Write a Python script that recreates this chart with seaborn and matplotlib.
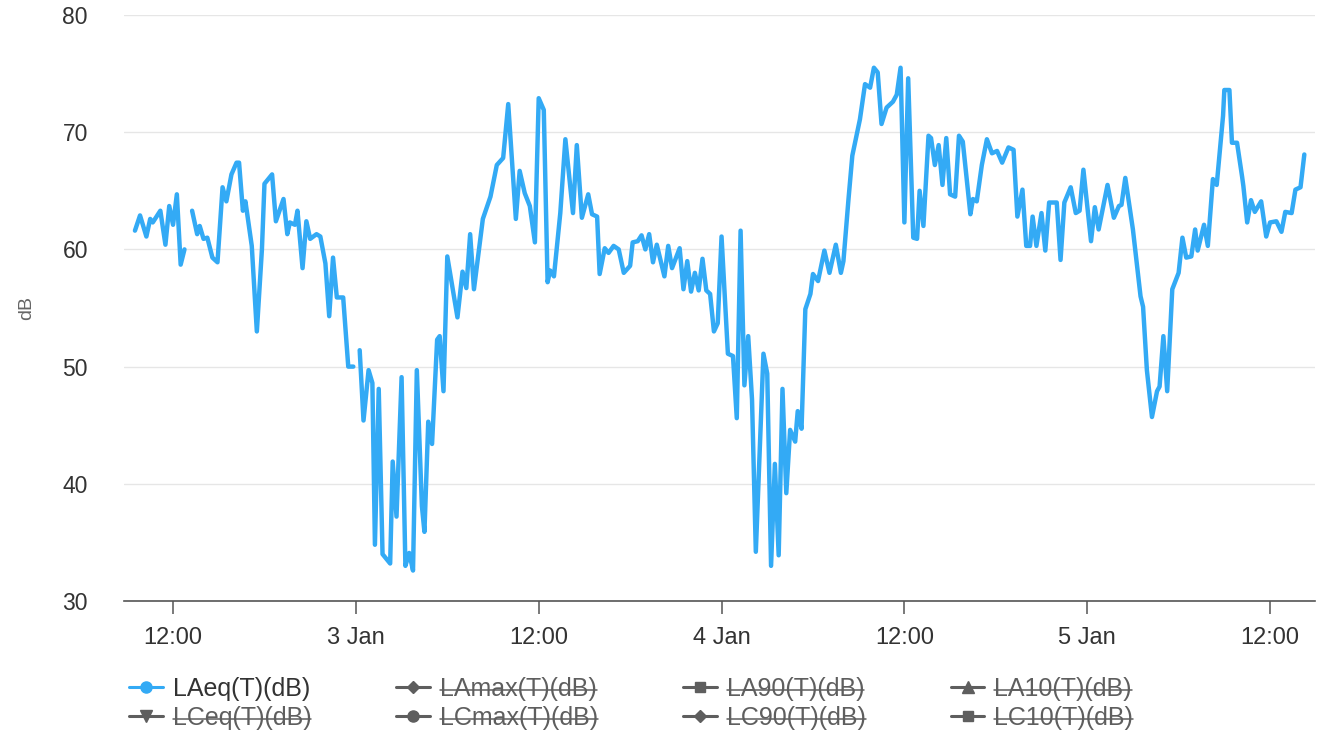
import numpy as np
import pandas as pd
import matplotlib
matplotlib.use("Agg")
import matplotlib.pyplot as plt
from matplotlib.lines import Line2D
import seaborn as sns

# LAeq readings, minutes after the first sample (None = no data, line breaks)
start = "2024-01-02 09:30"
minutes = [0, 20, 45, 60, 70, 100, 120, 135, 150, 165, 180, 195, 210,
           225, 245, 255, 270, 285, 305, 325, 345, 360, 380, 400, 410, 425, 435, 460, 480,
           500, 510, 540, 555, 585, 600, 610, 630, 640, 660, 675, 690, 715, 730, 750, 765,
           780, 795, 820, 840, 860, 870,
           885, 900, 920, 935, 945, 960, 975, 1005, 1015, 1030, 1050, 1065, 1080, 1095,
           1110, 1130, 1140, 1155, 1170, 1190, 1200, 1215, 1230, 1270, 1290, 1305, 1320,
           1335, 1370, 1400, 1425, 1450, 1470, 1500, 1515, 1535, 1555, 1575, 1590, 1610,
           1625, 1635, 1650, 1675, 1695, 1725, 1740, 1760, 1785, 1800, 1820, 1830, 1850,
           1865, 1885, 1905, 1925, 1950, 1960, 1980, 1995, 2010, 2025, 2040, 2055, 2085,
           2100, 2115, 2145, 2160, 2175, 2190, 2205, 2220, 2235, 2250, 2265, 2280, 2295,
           2310, 2335, 2355, 2370, 2385, 2400, 2415, 2430, 2445, 2475, 2490, 2505, 2520,
           2535, 2550, 2565, 2580, 2600, 2610, 2625, 2640, 2660, 2670, 2690, 2715, 2735,
           2760, 2780, 2790, 2810, 2825, 2855, 2875, 2895, 2910, 2925, 2940, 2960, 2985,
           3000, 3015, 3030, 3045, 3065, 3080, 3090, 3105, 3125, 3135, 3150, 3165, 3180,
           3195, 3210, 3230, 3245, 3260, 3290, 3300, 3315, 3335, 3355, 3375, 3395, 3415,
           3440, 3460, 3475, 3495, 3510, 3525, 3535, 3550, 3570, 3585, 3600, 3630, 3645,
           3660, 3685, 3705, 3720, 3735, 3765, 3780, 3795, 3830, 3855, 3875, 3885, 3900,
           3930, 3960, 3970, 3985, 4005, 4025, 4035, 4050, 4065, 4085, 4110, 4125, 4140,
           4160, 4175, 4185, 4210, 4225, 4245, 4260, 4285, 4290, 4310, 4320, 4340, 4360,
           4365, 4380, 4395, 4410, 4435, 4455, 4470, 4495, 4515, 4530, 4555, 4570, 4590, 4605]
laeq = [61.6, 62.9, 61.1, 62.6, 62.3, 63.3, 60.4, 63.7, 62.1, 64.7, 58.7, 60.0, None,
        63.3, 61.3, 62.0, 60.9, 61.0, 59.3, 58.9, 65.3, 64.1, 66.4, 67.4, 67.4, 63.3, 64.1, 60.3, 53.0,
        60.0, 65.6, 66.4, 62.4, 64.3, 61.3, 62.3, 62.1, 63.3, 58.4, 62.4, 60.9, 61.3, 61.1, 58.8, 54.3,
        59.3, 55.9, 55.9, 50.0, 50.0, None,
        51.4, 45.4, 49.7, 48.6, 34.8, 48.1, 34.0, 33.2, 41.9, 37.2, 49.1, 33.0, 34.1, 32.6,
        49.7, 38.1, 35.9, 45.3, 43.4, 52.3, 52.6, 47.9, 59.4, 54.2, 58.1, 56.7, 61.3,
        56.6, 62.6, 64.5, 67.2, 67.8, 72.4, 62.6, 66.7, 64.8, 63.7, 60.6, 72.9, 71.9,
        57.2, 58.2, 57.7, 63.1, 69.4, 63.1, 68.9, 62.7, 64.7, 63.0, 62.8, 57.9, 60.1,
        59.7, 60.3, 60.0, 58.0, 58.6, 60.6, 60.7, 61.2, 60.0, 61.3, 58.9, 60.4, 57.7,
        60.3, 58.4, 60.1, 56.6, 59.0, 56.4, 58.0, 56.5, 59.2, 56.5, 56.2, 53.0, 53.7,
        61.1, 51.1, 50.9, 45.6, 61.6, 48.4, 52.6, 47.2, 34.2, 51.1, 49.4, 33.0, 41.7,
        33.9, 48.1, 39.2, 44.6, 43.6, 46.2, 44.7, 54.9, 56.2, 57.9, 57.3, 59.9, 58.0,
        60.4, 58.0, 59.0, 64.3, 68.0, 71.1, 74.1, 73.8, 75.5, 75.1, 70.7, 72.1, 72.6,
        73.2, 75.5, 62.3, 74.6, 61.0, 60.9, 65.0, 62.0, 69.7, 69.5, 67.2, 68.9, 65.5,
        69.5, 64.7, 64.5, 69.7, 69.2, 63.0, 64.3, 64.1, 67.2, 69.4, 68.2, 68.4, 67.4,
        68.7, 68.5, 62.8, 65.1, 60.3, 60.3, 62.8, 60.3, 63.1, 59.9, 64.0, 64.0, 59.1,
        64.0, 65.3, 63.1, 63.3, 66.8, 60.7, 63.6, 61.7, 65.5, 62.7, 63.7, 63.8, 66.1,
        61.7, 56.0, 55.1, 49.7, 45.7, 47.9, 48.3, 52.6, 47.9, 56.6, 58.0, 61.0, 59.3,
        59.4, 61.7, 59.9, 62.1, 60.3, 66.0, 65.5, 71.4, 73.6, 73.6, 69.1, 69.1, 66.2,
        65.4, 62.3, 64.2, 63.2, 64.1, 61.1, 62.3, 62.4, 61.5, 63.2, 63.1, 65.1, 65.3, 68.1]

tick_times = ["2024-01-02 12:00", "2024-01-03 00:00", "2024-01-03 12:00", "2024-01-04 00:00",
              "2024-01-04 12:00", "2024-01-05 00:00", "2024-01-05 12:00"]
tick_labels = ["12:00", "3 Jan", "12:00", "4 Jan", "12:00", "5 Jan", "12:00"]
y_ticks = [30, 40, 50, 60, 70, 80]

# legend order is column by column (4 columns, 2 rows)
legend_names = ["LAeq(T)(dB)", "LCeq(T)(dB)", "LAmax(T)(dB)", "LCmax(T)(dB)",
                "LA90(T)(dB)", "LC90(T)(dB)", "LA10(T)(dB)", "LC10(T)(dB)"]
legend_markers = ["o", "v", "D", "o", "s", "D", "^", "s"]
marker_sizes = [8, 8, 6, 8, 7, 6, 8, 7]

blue = "#33aaf5"
grey = "#5e5e5e"

sns.set_theme(style="white")
plt.rcParams["font.family"] = ["Liberation Sans", "DejaVu Sans"]

df = pd.DataFrame({
    "time": pd.Timestamp(start) + pd.to_timedelta(minutes, unit="min"),
    "LAeq": np.array(laeq, dtype=float),
})
df["seg"] = df["LAeq"].isna().cumsum()   # 빈 구간에서 선을 끊기 위한 구분
df = df.dropna()

fig = plt.figure(figsize=(13.28, 7.35), dpi=100)
ax = fig.add_axes([0.0934, 0.1823, 0.8968, 0.7973])

sns.lineplot(data=df, x="time", y="LAeq", units="seg", estimator=None,
             color=blue, linewidth=3.2, legend=False, ax=ax,
             solid_joinstyle="round", solid_capstyle="round")

ax.set_ylim(30, 80)
ax.set_yticks(y_ticks)
ax.set_xlim(pd.Timestamp("2024-01-02 08:47"), pd.Timestamp("2024-01-05 14:57"))
ax.set_xticks(pd.to_datetime(tick_times))
ax.set_xticklabels(tick_labels)

ax.grid(axis="y", color="#e6e6e6", linewidth=1)
ax.grid(axis="x", visible=False)
for side in ["top", "right", "left"]:
    ax.spines[side].set_visible(False)
ax.spines["bottom"].set_color("#555555")
ax.spines["bottom"].set_linewidth(1.2)
ax.tick_params(axis="x", bottom=True, length=9.5, width=1.1, color="#555555",
               pad=9.5, labelsize=17, labelcolor="#333333")
ax.tick_params(axis="y", left=False, length=0, pad=26, labelsize=16.5, labelcolor="#333333")
ax.set_xlabel("")
ax.set_ylabel("dB", fontsize=14, color="#666666")
ax.yaxis.set_label_coords(-0.075, 0.5)

handles = []
for i, (mk, ms) in enumerate(zip(legend_markers, marker_sizes)):
    c = blue if i == 0 else grey
    handles.append(Line2D([], [], color=c, lw=2.2, marker=mk, markersize=ms))

leg = fig.legend(handles, legend_names, ncol=4, loc="upper left",
                 bbox_to_anchor=(0.097, 0.079), frameon=False, fontsize=18,
                 handlelength=1.35, handletextpad=0.4, columnspacing=3.4,
                 labelspacing=0.2, borderpad=0, borderaxespad=0)
for i, t in enumerate(leg.get_texts()):
    t.set_color("#333333" if i == 0 else grey)

# hidden series: strike through the legend text
fig.canvas.draw()
renderer = fig.canvas.get_renderer()
inv = fig.transFigure.inverted()
for t in leg.get_texts()[1:]:
    bb = t.get_window_extent(renderer)
    ymid = bb.y0 + bb.height * 0.47
    (x0, y0), (x1, y1) = inv.transform([(bb.x0, ymid), (bb.x1, ymid)])
    fig.add_artist(Line2D([x0, x1], [y0, y1], color=grey, lw=1.1,
                          transform=fig.transFigure))

fig.savefig("out.png", dpi=100)
